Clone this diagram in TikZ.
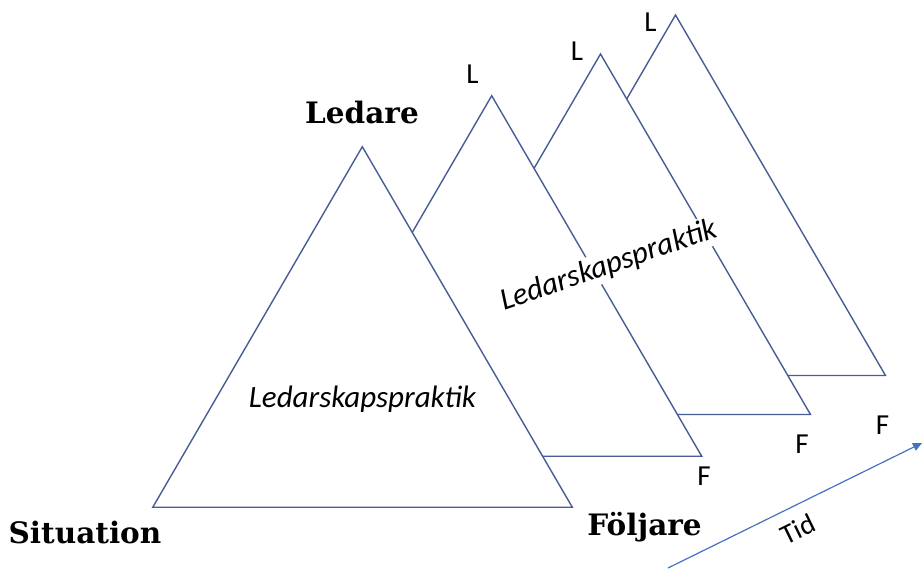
\documentclass[tikz,border=0pt]{standalone}
\usepackage{fontspec}
\setmainfont{Carlito}
\newfontfamily\headfont{DejaVu Serif}
\usetikzlibrary{arrows.meta}
\definecolor{edge}{RGB}{72,92,150}
\definecolor{arrowblue}{RGB}{68,114,196}
\begin{document}
\begin{tikzpicture}[x=1pt,y=-1pt,
  tri/.style={draw=edge, line width=1.4pt, fill=white, line join=miter},
  corner/.style={font=\fontsize{29}{29}\selectfont, inner sep=0pt},
  head/.style={font=\headfont\bfseries\fontsize{29.5}{29.5}\selectfont, inner sep=0pt, anchor=base},
  inner/.style={font=\itshape\fontsize{31}{31}\selectfont, inner sep=2pt, anchor=base}]
\useasboundingbox (0,0) rectangle (923,570);
% triangles, back to front
\foreach \ax/\ay/\nm in {675.5/15/d, 600.5/54/c, 491.7/95.7/b, 362.3/146.7/a}{
  \coordinate (\nm top) at (\ax,\ay);
  \coordinate (\nm left) at (\ax-209.5,\ay+360.5);
  \coordinate (\nm right) at (\ax+210,\ay+360.5);
  \draw[tri] (\nm top) -- (\nm right) -- (\nm left) -- cycle;
}
% labels
\node[corner] (l1) at (472.5,74) {L};
\node[corner] (l2) at (577,51) {L};
\node[corner] (l3) at (650.5,22) {L};
\node[corner] (f1) at (704,476) {F};
\node[corner] (f2) at (802,444) {F};
\node[corner] (f3) at (882.5,425) {F};
\node[head] (ledare) at (362,123) {Ledare};
\node[head] (situation) at (85,543) {Situation};
\node[head] (foljare) at (644.5,535) {Följare};
\node[inner] (prak1) at (362.5,407) {Ledarskapspraktik};
\node[inner, fill=white, rotate=19] (prak2) at (611.5,273.5) {Ledarskapspraktik};
% time arrow
\coordinate (t0) at (668,568);
\coordinate (t1) at (922,443);
\draw[arrowblue, line width=1.2pt, -{Triangle[length=9pt,width=8pt]}] (t0) -- (t1);
\node[font=\fontsize{28}{28}\selectfont, inner sep=0pt, rotate=26] (tid) at (798,529) {Tid};
\end{tikzpicture}
\end{document}
